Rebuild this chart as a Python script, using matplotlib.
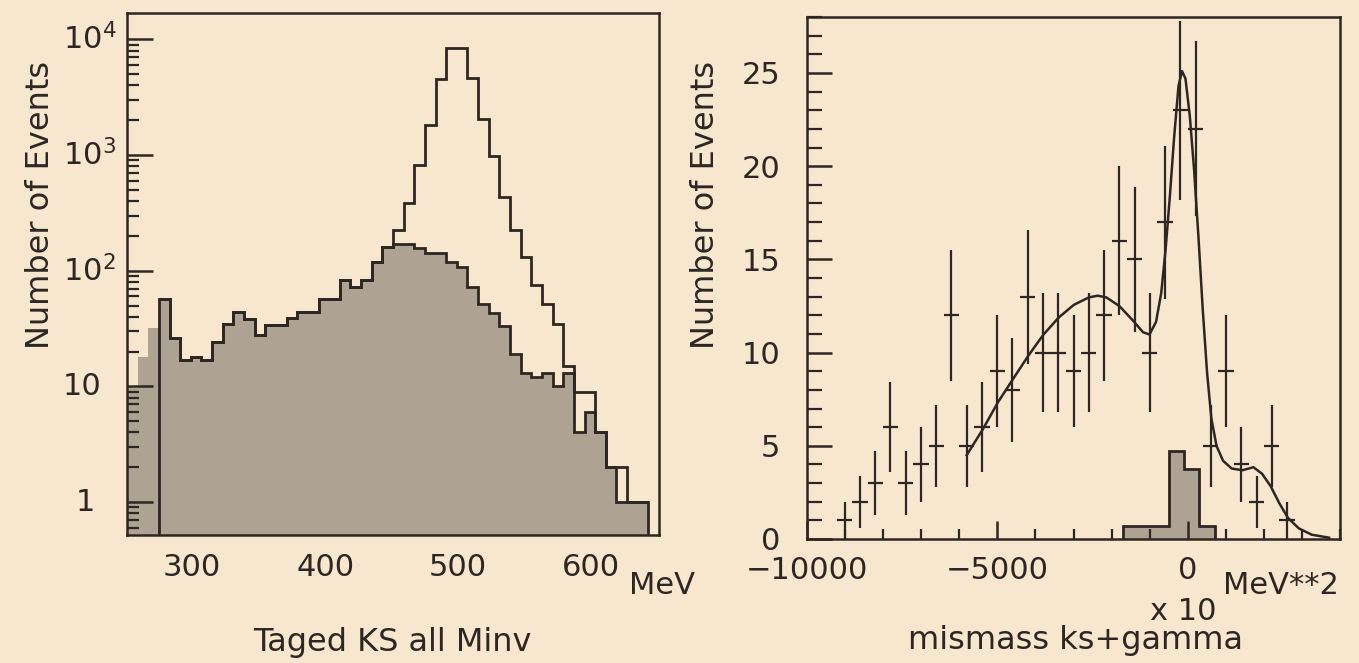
import numpy as np
import matplotlib
matplotlib.use("Agg")
import matplotlib.pyplot as plt
import matplotlib.transforms as mtransforms
from matplotlib.ticker import FixedLocator, MultipleLocator, LogLocator, NullFormatter

paper = "#f7e7cf"
ink = "#2e2622"
shade = "#aea293"

# left panel: K_S invariant mass, 8 MeV bins from 251 to 651 MeV
minv_edges = np.arange(251, 652, 8)
minv_all = [0, 0, 0, 57, 26, 17, 18, 17, 24, 35, 44, 38, 28, 34, 34, 39, 44, 44,
            57, 57, 83, 72, 83, 119, 160, 224, 385, 818, 1811, 4500, 8450, 8450,
            4590, 2030, 978, 435, 224, 132, 75, 52, 35, 15, 9, 9, 4, 2, 2, 1, 1, 0]
minv_bkg = [10, 18, 32, 57, 26, 17, 18, 17, 24, 35, 44, 38, 28, 34, 34, 39, 44, 44,
            57, 57, 83, 72, 83, 119, 160, 172, 172, 156, 141, 141, 119, 108,
            73, 52, 43, 33, 19, 13, 12, 13, 10, 13, 4, 6, 4, 2, 1, 1, 1, 0]
left_xticks = [300, 400, 500, 600]
left_yticks = [1, 10, 100, 1000, 10000]
left_ylabels = ["1", "10", r"$\mathregular{10^{2}}$", r"$\mathregular{10^{3}}$",
                r"$\mathregular{10^{4}}$"]

# right panel: missing mass squared (x10 MeV**2), 400-wide bins
mm_centers = [-9000, -8600, -8200, -7800, -7400, -7000, -6600, -6200, -5800, -5400,
              -5000, -4600, -4200, -3800, -3400, -3000, -2600, -2200, -1800, -1400,
              -1000, -600, -200, 200, 600, 1000, 1400, 1800, 2200, 2600]
mm_counts = [1, 2, 3, 6, 3, 4, 5, 12, 5, 6, 9, 8, 13, 10, 10, 9, 10, 12, 16, 15,
             10, 17, 23, 22, 5, 9, 4, 2, 5, 1]
mm_errors = [1.0, 1.4, 1.7, 2.4, 1.7, 2.0, 2.2, 3.5, 2.2, 2.4, 3.0, 2.8, 3.6, 3.2, 3.2,
             3.0, 3.2, 3.5, 4.0, 3.9, 3.2, 4.1, 4.8, 4.7, 2.2, 3.0, 2.0, 1.4, 2.2, 1.0]
mm_halfwidth = 200
mc_edges = [-1700, -500, -100, 300, 700]
mc_counts = [0.7, 4.7, 3.75, 0.7]
fit_x = [-5800, -5374, -4977, -4580, -4183, -3786, -3388, -2991, -2594, -2367, -2140,
         -1800, -1459, -1176, -1006, -835, -699, -586, -472, -359, -246, -155, -64,
         50, 163, 277, 390, 504, 617, 753, 924, 1150, 1434, 1718, 1945, 2172, 2398,
         2625, 2909, 3249, 3703]
fit_y = [4.5, 5.9, 7.35, 8.6, 9.84, 10.97, 11.88, 12.56, 12.96, 13.05, 12.96, 12.5,
         11.76, 11.09, 10.97, 11.65, 13.2, 15.5, 18.4, 21.6, 24.3, 25.1, 24.7, 22.7,
         19.8, 16.2, 12.3, 8.9, 6.45, 4.98, 4.19, 3.78, 3.69, 3.85, 3.5, 2.83, 1.92,
         1.13, 0.57, 0.23, 0.07]
right_xticks = [-10000, -5000, 0]
right_xlabels = ["\u221210000", "\u22125000", "0"]

plt.rcParams["font.family"] = "DejaVu Sans"
plt.rcParams["text.color"] = ink

fig = plt.figure(figsize=(13.59, 6.63), dpi=100, facecolor=paper)
W, H = 1359, 663

def box(l, t, r, b):
    return [l / W, 1 - b / H, (r - l) / W, (b - t) / H]

axL = fig.add_axes(box(127, 13.3, 659, 535), facecolor=paper)
axR = fig.add_axes(box(806.6, 17, 1340.4, 539), facecolor=paper)

for ax in (axL, axR):
    for s in ax.spines.values():
        s.set_color(ink)
        s.set_linewidth(1.8)

# ---- left
axL.set_yscale("log")
axL.set_xlim(251, 651)
axL.set_ylim(0.52, 16800)
axL.stairs(minv_bkg, minv_edges, fill=True, baseline=0.01, color=shade, lw=0)
axL.stairs(minv_bkg[3:49], minv_edges[3:50], baseline=None, color=ink, lw=2)
axL.stairs(minv_all[3:49], minv_edges[3:50], baseline=0.01, color=ink, lw=2)

axL.set_xticks(left_xticks)
axL.set_xticklabels([str(t) for t in left_xticks])
axL.tick_params(axis="x", length=0, pad=13, labelsize=22, colors=ink)
axL.yaxis.set_major_locator(FixedLocator(left_yticks))
axL.yaxis.set_minor_locator(LogLocator(base=10, subs=np.arange(2, 10)))
axL.yaxis.set_major_formatter(NullFormatter())
axL.yaxis.set_minor_formatter(NullFormatter())
axL.tick_params(axis="y", which="major", direction="in", length=18.7, width=1.8, colors=ink)
axL.tick_params(axis="y", which="minor", direction="in", length=8.5, width=1.6, colors=ink)
trL = mtransforms.blended_transform_factory(axL.transAxes, axL.transData)
for v, lab in zip(left_yticks, left_ylabels):
    if lab == "1":
        axL.text(-0.079, v, lab, transform=trL, ha="center", va="center", fontsize=22)
    else:
        axL.text(-0.12, v, lab, transform=trL, ha="left", va="center", fontsize=22)

# ---- right
axR.set_xlim(-10000, 4000)
axR.set_ylim(0, 28)
axR.stairs(mc_counts, mc_edges, fill=True, color=shade, lw=0)
axR.stairs(mc_counts, mc_edges, baseline=0, color=ink, lw=2)
axR.errorbar(mm_centers, mm_counts, xerr=mm_halfwidth, yerr=mm_errors, fmt="none",
             ecolor=ink, elinewidth=1.6, capsize=0)
axR.plot(fit_x, fit_y, color=ink, lw=1.8)

axR.set_xticks(right_xticks)
axR.set_xticklabels(right_xlabels)
axR.xaxis.set_minor_locator(MultipleLocator(1000))
axR.yaxis.set_major_locator(MultipleLocator(5))
axR.yaxis.set_minor_locator(MultipleLocator(1))
axR.tick_params(axis="x", which="major", direction="in", length=13, width=1.8,
                pad=12, labelsize=22, colors=ink)
axR.tick_params(axis="x", which="minor", direction="in", length=7, width=1.6, colors=ink)
axR.tick_params(axis="y", which="major", direction="in", length=18, width=1.8,
                pad=19, labelsize=22, colors=ink)
axR.tick_params(axis="y", which="minor", direction="in", length=11, width=1.6, colors=ink)

# ---- texts
fig.text(41 / W, 1 - 205 / H, "Number of Events", rotation=90, ha="center", va="center", fontsize=23)
fig.text(706 / W, 1 - 205 / H, "Number of Events", rotation=90, ha="center", va="center", fontsize=23)
fig.text(392 / W, 1 - 643 / H, "Taged KS all Minv", ha="center", va="center", fontsize=23)
fig.text(1075 / W, 1 - 641 / H, "mismass ks+gamma", ha="center", va="center", fontsize=23)
fig.text(629 / W, 1 - 586 / H, "MeV", ha="left", va="center", fontsize=22)
fig.text(1223 / W, 1 - 585 / H, "MeV**2", ha="left", va="center", fontsize=22)
fig.text(1183 / W, 1 - 611 / H, "x 10", ha="center", va="center", fontsize=22)

fig.savefig("out.png", dpi=100, facecolor=paper)
